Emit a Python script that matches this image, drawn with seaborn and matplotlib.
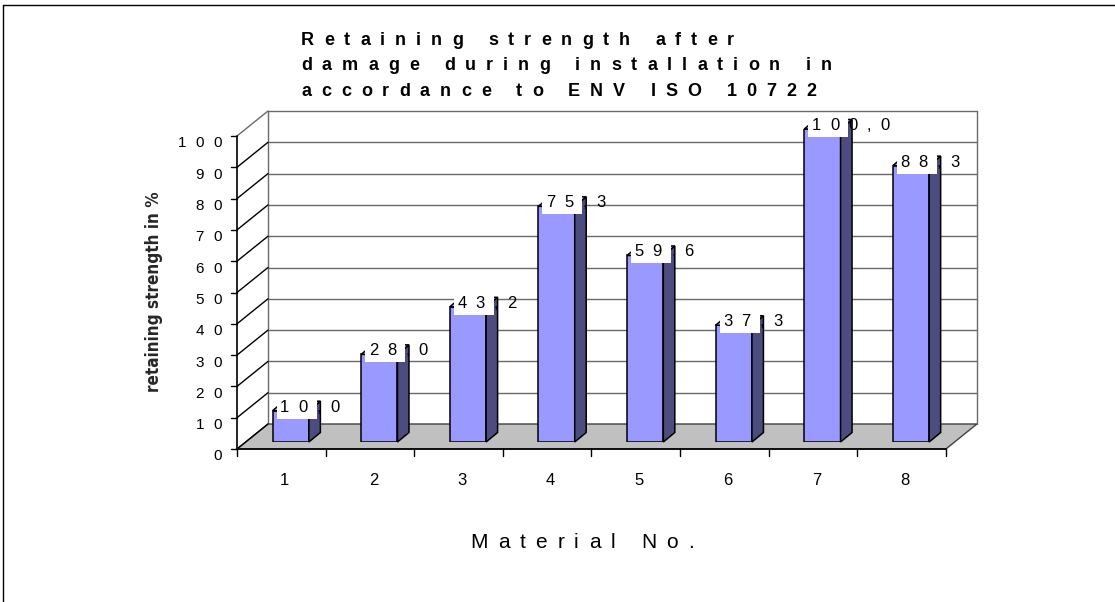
import matplotlib
matplotlib.use("Agg")
import matplotlib.pyplot as plt
from matplotlib import font_manager
from matplotlib.font_manager import FontProperties
from matplotlib.transforms import IdentityTransform
from matplotlib.patches import Polygon, Rectangle
from matplotlib.lines import Line2D
import seaborn as sns
import pandas as pd

# ---- data ----
materials = ["1", "2", "3", "4", "5", "6", "7", "8"]
strength = [10.0, 28.0, 43.2, 75.3, 59.6, 37.3, 100.0, 88.3]
y_ticks = [0, 10, 20, 30, 40, 50, 60, 70, 80, 90, 100]
title_lines = [
    "Retaining strength after",
    "damage during installation in",
    "accordance to ENV ISO 10722",
]
x_label = "Material No."
y_label = "retaining strength in %"

# ---- style ----
sns.set_theme(style="white")
plt.rcParams["font.family"] = ["Liberation Sans", "DejaVu Sans"]


def narrow_font():
    entries = {(f.name, str(f.stretch)) for f in font_manager.fontManager.ttflist}
    if any(n == "Liberation Sans Narrow" for n, _ in entries):
        return {"family": "Liberation Sans Narrow"}
    if ("DejaVu Sans", "condensed") in entries:
        return {"family": "DejaVu Sans", "stretch": "condensed"}
    return {"family": "Liberation Sans"}


NARROW = narrow_font()

FACE = "#9999FF"
SIDE = "#4C4C80"
TOP = "#B3B3FF"
FLOOR = "#C0C0C0"
WALL_LINE = "#6A6A6A"

W, H, DPI = 1115, 602, 100
fig = plt.figure(figsize=(W / DPI, H / DPI), dpi=DPI, facecolor="white")
ax = fig.add_axes([246.4 / W, 160 / H, 708.9 / W, 313 / H])

df = pd.DataFrame({"material": materials, "strength": strength})
sns.barplot(data=df, x="material", y="strength", order=materials,
            color=FACE, saturation=1, width=0.41, errorbar=None,
            edgecolor="black", linewidth=1.1, ax=ax, zorder=3)
bars = list(ax.patches)
ax.set_xlim(-0.5, len(materials) - 0.5)
ax.set_ylim(0, 100)
ax.set_axis_off()

# pixel offsets of the 3-D planes relative to the plane of the bar fronts
FRONT = (-9.4, -7.0)
BACK = (21.6, 18.0)
DEPTH = (11.5, 9.5)
IDT = IdentityTransform()
renderer = fig.canvas.get_renderer()


def pt(x, y, off=(0.0, 0.0)):
    px, py = ax.transData.transform((x, y))
    return (px + off[0], py + off[1])


def seg(p, q, color="black", lw=1.0, z=1.0):
    ax.add_line(Line2D([p[0], q[0]], [p[1], q[1]], transform=IDT,
                       color=color, lw=lw, zorder=z, clip_on=False))


def poly(points, fc, ec="black", lw=1.0, z=1.0):
    ax.add_patch(Polygon(points, closed=True, transform=IDT, facecolor=fc,
                         edgecolor=ec, lw=lw, zorder=z, clip_on=False))


def tracked(x, y, s, prop, gap, ha="left", z=6, color="black"):
    """Letter-spaced text; (x, y) in pixels, y = middle of the capitals."""
    px = prop.get_size_in_points() * DPI / 72
    widths = []
    for ch in s:
        if ch == " ":
            widths.append(0.28 * px)
        else:
            w, _, _ = renderer.get_text_width_height_descent(ch, prop, ismath=False)
            widths.append(w)
    total = sum(widths) + gap * (len(s) - 1)
    cur = x - {"left": 0.0, "center": total / 2, "right": total}[ha]
    base = y - 0.36 * px
    for ch, w in zip(s, widths):
        if ch != " ":
            fig.text(cur, base, ch, transform=IDT, fontproperties=prop,
                     ha="left", va="baseline", color=color, zorder=z)
        cur += w + gap


x0, x1 = -0.5, len(materials) - 0.5

# back wall with gridlines
for v in y_ticks[1:-1]:
    seg(pt(x0, v, BACK), pt(x1, v, BACK), color=WALL_LINE, lw=1.0, z=0.5)
seg(pt(x0, 0, BACK), pt(x0, 100, BACK), color=WALL_LINE, z=0.5)
seg(pt(x0, 100, BACK), pt(x1, 100, BACK), color=WALL_LINE, z=0.5)
seg(pt(x1, 100, BACK), pt(x1, 0, BACK), color=WALL_LINE, z=0.5)

# side wall: diagonals from the value axis ticks to the back wall
for v in y_ticks:
    seg(pt(x0, v, FRONT), pt(x0, v, BACK),
        color=WALL_LINE if v == 100 else "black", lw=1.0, z=0.9)

# floor
poly([pt(x0, 0, FRONT), pt(x1, 0, FRONT), pt(x1, 0, BACK), pt(x0, 0, BACK)],
     fc=FLOOR, ec="#404040", lw=1.0, z=0.8)

# value axis
seg(pt(x0, 0, FRONT), pt(x0, 100, FRONT), lw=1.2, z=4)
tick_prop = FontProperties(family="Liberation Sans", size=11)
for v in y_ticks:
    p = pt(x0, v, FRONT)
    seg((p[0] - 6.5, p[1]), p, lw=1.0, z=4)
    tracked(p[0] - 15, p[1] - 6, str(v), tick_prop, gap=9.5, ha="right")

# category axis
seg(pt(x0, 0, FRONT), pt(x1, 0, FRONT), lw=1.2, z=4)
for k in range(len(materials) + 1):
    p = pt(x0 + k, 0, FRONT)
    seg(p, (p[0], p[1] - 6.5), lw=1.0, z=4)
cat_prop = FontProperties(family="Liberation Sans", size=12)
for i, name in enumerate(materials):
    p = pt(i, 0)
    tracked(p[0] - 6, p[1] - 37, name, cat_prop, gap=9, ha="center")

# bar sides, tops and value labels
label_prop = FontProperties(family="Liberation Sans", size=12)
for bar in bars:
    xl = bar.get_x()
    xr = xl + bar.get_width()
    v = bar.get_height()
    poly([pt(xr, 0), pt(xr, v), pt(xr, v, DEPTH), pt(xr, 0, DEPTH)],
         fc=SIDE, ec="black", lw=1.1, z=3)
    poly([pt(xl, v), pt(xr, v), pt(xr, v, DEPTH), pt(xl, v, DEPTH)],
         fc=TOP, ec="black", lw=1.1, z=3)
    corner = pt(xl, v)
    ax.add_patch(Rectangle((corner[0] + 4, corner[1] - 8), 40, 22,
                           transform=IDT, facecolor="white", edgecolor="none",
                           zorder=5, clip_on=False))
    text = f"{v:.1f}".replace(".", ",")
    tracked(corner[0] + 7.5, corner[1] + 5, text, label_prop, gap=9)

# titles
title_prop = FontProperties(family="Liberation Sans", size=13, weight="bold")
for k, line in enumerate(title_lines):
    tracked(301, H - (38.5 + 25.5 * k), line, title_prop, gap=10)

xl_prop = FontProperties(family="Liberation Sans", size=15)
tracked(582, H - 540, x_label, xl_prop, gap=10, ha="center")

# value-axis title, sized to span the axis height
probe = FontProperties(weight="bold", size=10, **NARROW)
probe_w, _, _ = renderer.get_text_width_height_descent(y_label, probe, ismath=False)
yl_prop = FontProperties(weight="bold", size=10 * 199 / probe_w, **NARROW)
fig.text(154, H - 292, y_label, transform=IDT, fontproperties=yl_prop,
         rotation=90, ha="center", va="center")

# chart frame
fig.add_artist(Line2D([3, W], [H - 5, H - 5], transform=IDT, color="black", lw=1.0))
fig.add_artist(Line2D([3, 3], [H - 5, 0], transform=IDT, color="black", lw=1.0))

fig.savefig("out.png", dpi=DPI, facecolor="white")
